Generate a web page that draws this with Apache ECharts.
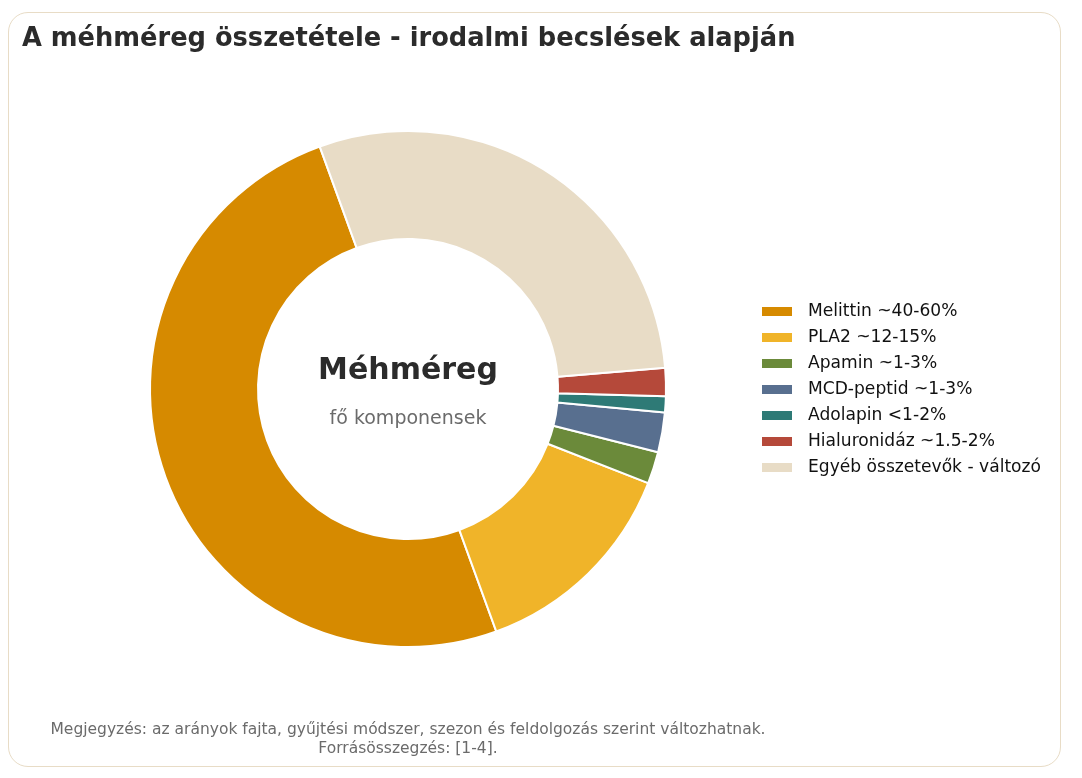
<!DOCTYPE html>
<html>
<head>
<meta charset="utf-8">
<script src="https://cdn.jsdelivr.net/npm/echarts@6/dist/echarts.min.js"></script>
<style>
  html, body { margin: 0; padding: 0; background: #fff; }
  #frame {
    position: absolute; left: 8px; top: 12px; width: 1053px; height: 755px;
    border: 1px solid #e8dcc6; border-radius: 20px; box-sizing: border-box;
  }
  #chart { position: absolute; left: 0; top: 0; width: 1082px; height: 778px; }
</style>
</head>
<body>
<div id="frame"></div>
<div id="chart"></div>
<script>
// komponensek (becsült középértékek, %)
const names = [
  "Melittin ~40-60%",
  "PLA2 ~12-15%",
  "Apamin ~1-3%",
  "MCD-peptid ~1-3%",
  "Adolapin <1-2%",
  "Hialuronidáz ~1.5-2%",
  "Egyéb összetevők - változó"
];
const values = [50, 13.5, 2, 2.5, 1, 1.75, 29.25];
const colors = ["#d68a00", "#f0b429", "#6b8a3a", "#586f8f", "#2e7a76", "#b5493a", "#e8dcc6"];

const titleText = "A méhméreg összetétele - irodalmi becslések alapján";
const centerMain = "Méhméreg";
const centerSub = "fő komponensek";
const footLines = [
  "Megjegyzés: az arányok fajta, gyűjtési módszer, szezon és feldolgozás szerint változhatnak.",
  "Forrásösszegzés: [1-4]."
];

const chart = echarts.init(document.getElementById("chart"));

chart.setOption({
  animation: false,
  color: colors,
  title: [
    {
      text: titleText,
      left: 17, top: 21,
      textStyle: { fontFamily: "DejaVu Sans", fontWeight: "bold", fontSize: 25.7, color: "#2b2b2b" }
    },
    {
      text: centerMain,
      left: 403, top: 351, textAlign: "center",
      textStyle: { fontFamily: "DejaVu Sans", fontWeight: "bold", fontSize: 30, color: "#2b2b2b" }
    },
    {
      text: centerSub,
      left: 403, top: 405, textAlign: "center",
      textStyle: { fontFamily: "DejaVu Sans", fontWeight: "normal", fontSize: 19, color: "#6b6b6b" }
    },
    {
      text: footLines.join("\n"),
      left: 403, top: 715, textAlign: "center",
      textStyle: { fontFamily: "DejaVu Sans", fontWeight: "normal", fontSize: 15.5, lineHeight: 19, color: "#6b6b6b" }
    }
  ],
  legend: {
    orient: "vertical",
    left: 755, top: 298,
    itemWidth: 32, itemHeight: 11, itemGap: 9,
    icon: "rect",
    textStyle: { fontFamily: "DejaVu Sans", fontSize: 17.1, color: "#111", padding: [0, 0, 0, 10] },
    data: names
  },
  series: [{
    type: "pie",
    center: [408, 389],
    radius: [150, 258],
    startAngle: 110,
    clockwise: false,
    silent: true,
    label: { show: false },
    labelLine: { show: false },
    itemStyle: { borderColor: "#fff", borderWidth: 2 },
    data: names.map((n, i) => ({ name: n, value: values[i] }))
  }]
});
</script>
</body>
</html>
